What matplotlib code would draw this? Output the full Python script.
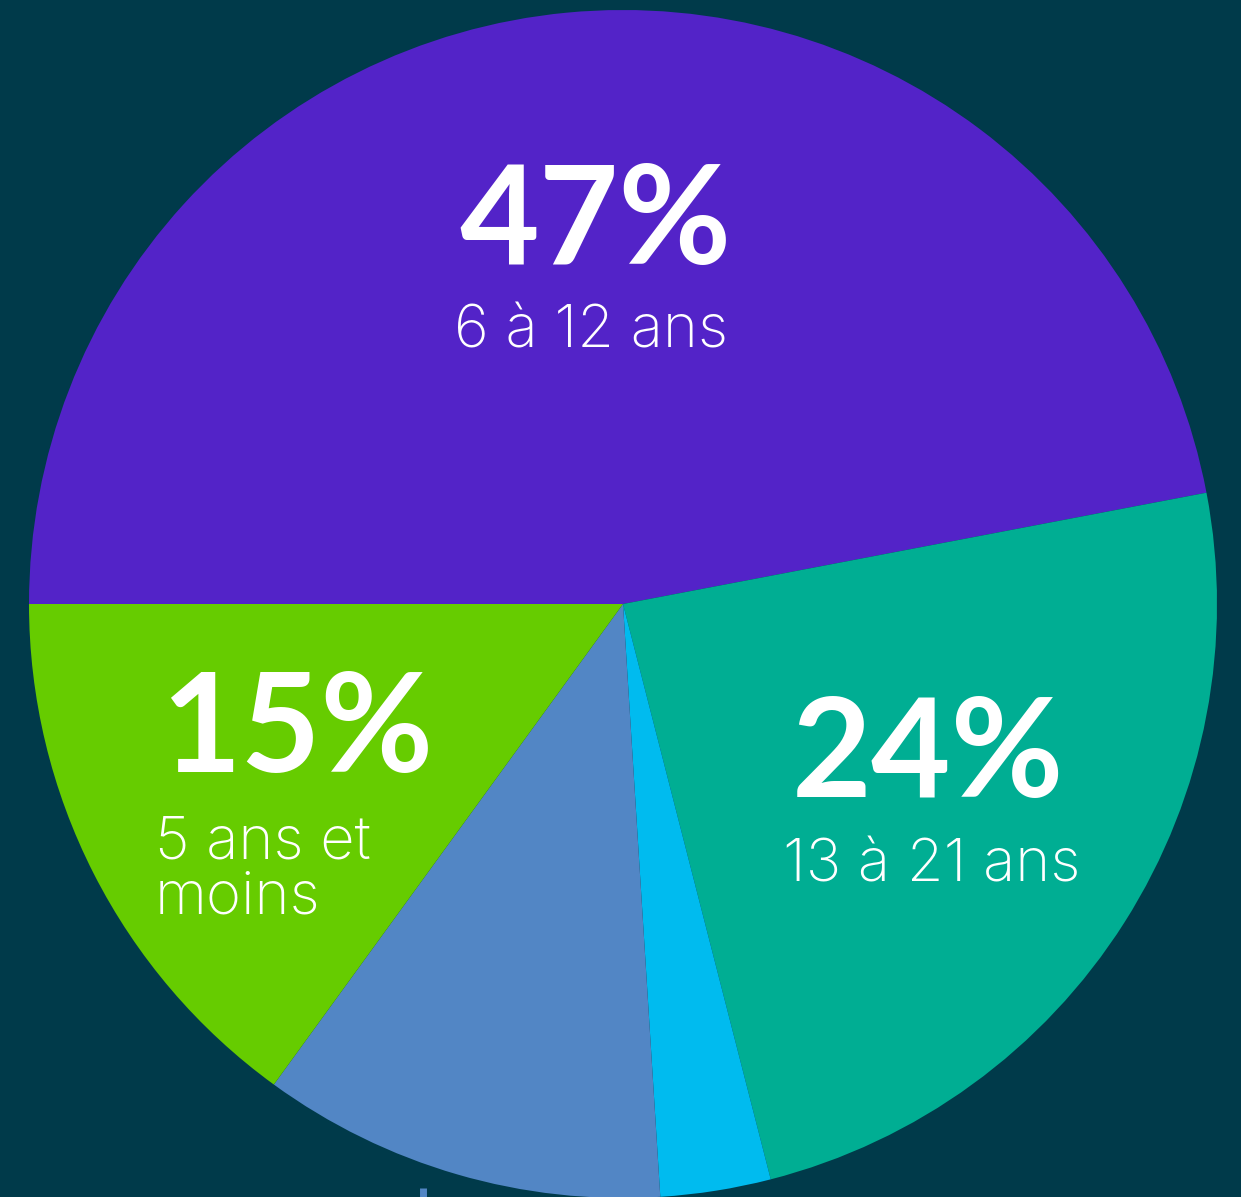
import matplotlib
matplotlib.use("Agg")
import matplotlib.pyplot as plt

# Data
categories = ["6 à 12 ans", "13 à 21 ans", "", "", "5 ans et\nmoins"]
values = [47, 24, 3, 11, 15]
pct_labels = ["47%", "24%", "", "", "15%"]
colors = ["#5323C8", "#00AE93", "#00BBEF", "#5286C5", "#66CC00"]
bg = "#003A4A"

W, H = 1241, 1197
fig = plt.figure(figsize=(W / 100, H / 100), dpi=100, facecolor=bg)
ax = fig.add_axes([0, 0, 1, 1])
ax.set_facecolor(bg)

cx, cy, r = 623, H - 604, 594
ax.pie(values, colors=colors, startangle=180, counterclock=False,
       center=(cx, cy), radius=r, frame=True,
       wedgeprops=dict(linewidth=0))
ax.set_xlim(0, W)
ax.set_ylim(0, H)
ax.set_aspect("equal")
ax.axis("off")

# small leader mark at the bottom
ax.plot([423, 423], [0, H - 1188], color="#5286C5", lw=5, solid_capstyle="butt")

big = dict(color="white", fontsize=99, fontweight="bold",
           family=["Lato", "DejaVu Sans"], ha="center", va="center")
small = dict(color="white", fontsize=43, fontweight="light",
             family=["Inter", "DejaVu Sans"], va="center")

ax.text(595, H - 224, pct_labels[0], **big)
ax.text(591, H - 332, categories[0], ha="center", **small)
ax.text(928, H - 757, pct_labels[1], **big)
ax.text(932, H - 866, categories[1], ha="center", **small)
ax.text(297, H - 732, pct_labels[4], **big)
ax.text(155, H - 870, categories[4], ha="left", linespacing=1.0, **small)

fig.savefig("out.png", dpi=100, facecolor=bg)
